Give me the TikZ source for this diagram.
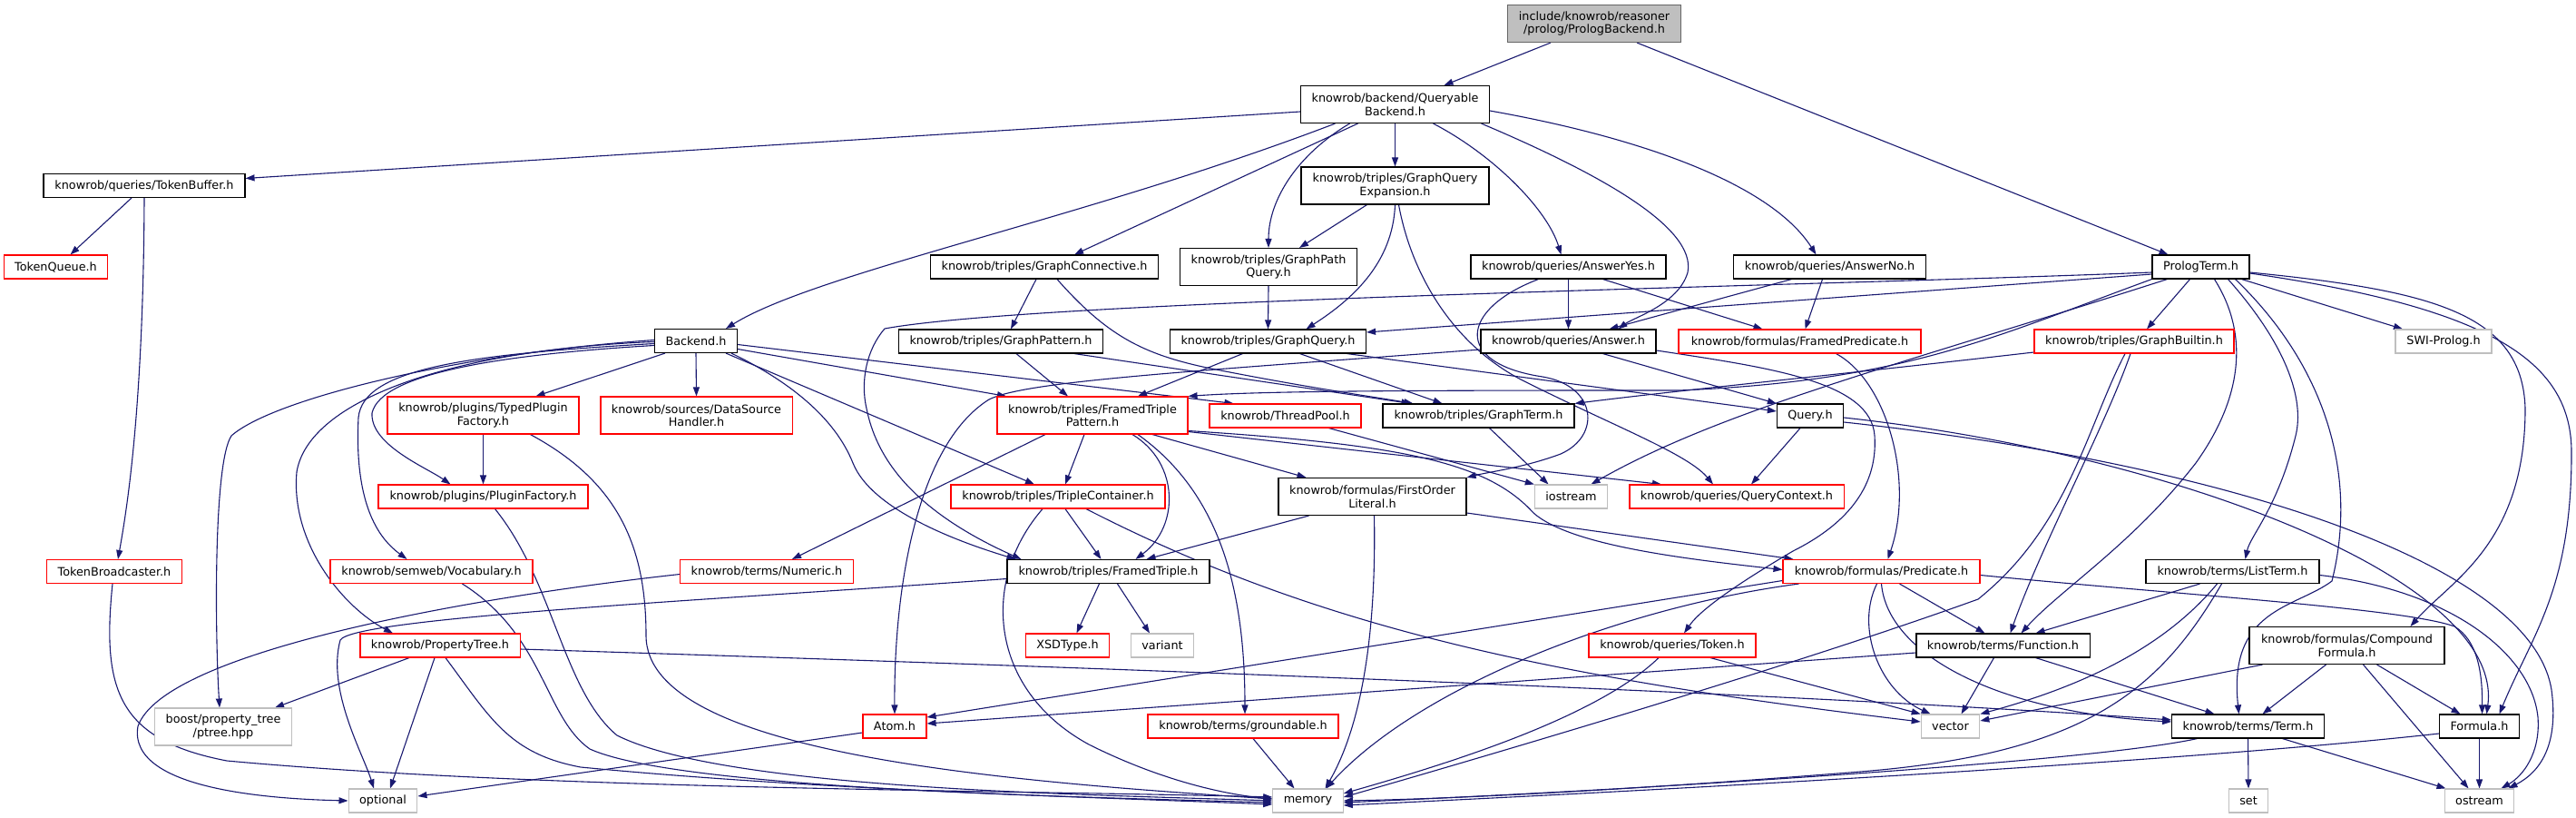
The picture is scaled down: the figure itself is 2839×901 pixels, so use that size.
\documentclass[tikz,border=0pt]{standalone}
\usepackage{fontspec}
\setmainfont{DejaVu Sans}
\usetikzlibrary{arrows.meta}
\definecolor{edgec}{HTML}{191970}
\definecolor{grayA}{HTML}{BFBFBF}
\definecolor{grayB}{HTML}{666666}
\newcommand\dxfont{\fontsize{12.8}{14.5}\selectfont}
\pgfdeclarelayer{edgelayer}
\pgfsetlayers{edgelayer,main}
\tikzset{
  nbase/.style={draw, fill=white, line width=1.1pt, inner xsep=12pt, inner ysep=0pt, align=center, font=\dxfont, minimum height=26},
  blk/.style={nbase, draw=black},
  rd/.style={nbase, draw=red},
  gr/.style={nbase, draw=grayA},
  rt/.style={nbase, fill=grayA, draw=grayB},
  two/.style={minimum height=41},
  edg/.style={draw=edgec, line width=1.1pt, -{Triangle[length=10pt,width=7pt]}},
}
\begin{document}
\begin{tikzpicture}[x=1pt,y=-1pt]
\useasboundingbox (0,0) rectangle (2839,901);
% nodes
\node[rt,two,minimum width=190] (root) at (1757,26) {include/knowrob/reasoner\\/prolog/PrologBackend.h};
\node[blk,two,minimum width=207] (qb) at (1537.5,115) {knowrob/backend/Queryable\\Backend.h};
\node[blk,minimum width=222] (tb) at (159,204.5) {knowrob/queries/TokenBuffer.h};
\node[rd,minimum width=113] (tq) at (61.5,294) {TokenQueue.h};
\node[blk,minimum width=90] (be) at (767,375.5) {Backend.h};
\node[blk,two,minimum width=207] (gqe) at (1537.5,204.5) {knowrob/triples/GraphQuery\\Expansion.h};
\node[blk,minimum width=250] (gc) at (1151,294) {knowrob/triples/GraphConnective.h};
\node[blk,two,minimum width=194] (gpq) at (1398,294) {knowrob/triples/GraphPath\\Query.h};
\node[blk,minimum width=215] (ay) at (1728.5,294) {knowrob/queries/AnswerYes.h};
\node[blk,minimum width=211] (ano) at (2016.5,294) {knowrob/queries/AnswerNo.h};
\node[blk,minimum width=107] (pt) at (2425.5,294) {PrologTerm.h};
\node[blk,minimum width=224] (gp) at (1103,376) {knowrob/triples/GraphPattern.h};
\node[blk,minimum width=215] (gq) at (1397.5,376) {knowrob/triples/GraphQuery.h};
\node[blk,minimum width=193] (an) at (1728.5,376) {knowrob/queries/Answer.h};
\node[rd,minimum width=267] (fp) at (1983.5,376) {knowrob/formulas/FramedPredicate.h};
\node[rd,minimum width=220] (gb) at (2352,376) {knowrob/triples/GraphBuiltin.h};
\node[gr,minimum width=106] (swi) at (2693,376) {SWI-Prolog.h};
\node[rd,two,minimum width=211] (tp) at (532.5,457.5) {knowrob/plugins/TypedPlugin\\Factory.h};
\node[rd,two,minimum width=211] (ds) at (767.5,457.5) {knowrob/sources/DataSource\\Handler.h};
\node[rd,two,minimum width=210] (ftp) at (1204,457.5) {knowrob/triples/FramedTriple\\Pattern.h};
\node[rd,minimum width=167] (thp) at (1416.5,458) {knowrob/ThreadPool.h};
\node[blk,minimum width=211] (gt) at (1629.5,458) {knowrob/triples/GraphTerm.h};
\node[blk,minimum width=70] (q) at (1995,458) {Query.h};
\node[rd,minimum width=231] (pf) at (532.5,547) {knowrob/plugins/PluginFactory.h};
\node[rd,minimum width=236] (tc) at (1166,547) {knowrob/triples/TripleContainer.h};
\node[blk,two,minimum width=207] (fol) at (1512.5,547) {knowrob/formulas/FirstOrder\\Literal.h};
\node[gr,minimum width=79] (ios) at (1731.5,547) {iostream};
\node[rd,minimum width=236] (qc) at (1914,547) {knowrob/queries/QueryContext.h};
\node[rd,minimum width=148] (tbc) at (126,629.5) {TokenBroadcaster.h};
\node[rd,minimum width=223] (voc) at (475.5,629.5) {knowrob/semweb/Vocabulary.h};
\node[rd,minimum width=190] (num) at (845,629.5) {knowrob/terms/Numeric.h};
\node[blk,minimum width=223] (ft) at (1221.5,629.5) {knowrob/triples/FramedTriple.h};
\node[rd,minimum width=217] (pred) at (2073.5,629.5) {knowrob/formulas/Predicate.h};
\node[blk,minimum width=191] (lt) at (2460.5,629.5) {knowrob/terms/ListTerm.h};
\node[rd,minimum width=176] (ptr) at (485,711) {knowrob/PropertyTree.h};
\node[rd,minimum width=89] (xsd) at (1176.5,711) {XSDType.h};
\node[gr,minimum width=68] (var) at (1281,711) {variant};
\node[rd,minimum width=184] (tok) at (1843,711) {knowrob/queries/Token.h};
\node[blk,minimum width=191] (fn) at (2207.5,711) {knowrob/terms/Function.h};
\node[blk,two,minimum width=215] (cf) at (2586.5,711) {knowrob/formulas/Compound\\Formula.h};
\node[gr,two,minimum width=150] (ptree) at (246,800.5) {boost/property\_tree\\/ptree.hpp};
\node[rd,minimum width=70] (atom) at (986,800) {Atom.h};
\node[rd,minimum width=210] (grd) at (1370,800) {knowrob/terms/groundable.h};
\node[gr,minimum width=61] (vec) at (2149.5,800) {vector};
\node[blk,minimum width=167] (term) at (2477.5,800) {knowrob/terms/Term.h};
\node[blk,minimum width=87] (fml) at (2732.5,800) {Formula.h};
\node[gr,minimum width=74] (opt) at (422,882) {optional};
\node[gr,minimum width=77] (mem) at (1441.5,882) {memory};
\node[gr,minimum width=42] (setn) at (2478,882) {set};
\node[gr,minimum width=75] (ost) at (2732.5,882) {ostream};
\begin{pgfonlayer}{edgelayer}
\fill[white] (0,0) rectangle (2839,901);
% root
\draw[edg] ([xshift=-48]root.south) -- ([xshift=54]qb.north);
\draw[edg] ([xshift=47]root.south) -- ([xshift=-36]pt.north);
% queryable backend
\draw[edg] ([yshift=-8]qb.west) -- ([yshift=8]tb.east);
\draw[edg] ([xshift=-66]qb.south) .. controls (1200,240) and (900,300) .. ([xshift=33]be.north);
\draw[edg] ([xshift=-41]qb.south) -- ([xshift=33]gc.north);
\draw[edg] ([xshift=-50]qb.south) .. controls (1430,170) and (1398,220) .. (gpq.north);
\draw[edg] (qb.south) -- (gqe.north);
\draw[edg] ([xshift=42]qb.south) .. controls (1645,170) and (1705,230) .. ([xshift=-8]ay.north);
\draw[edg] ([xshift=95]qb.south) .. controls (1760,190) and (1870,250) .. (1860,300) .. controls (1850,335) and (1800,350) .. ([xshift=55]an.north);
\draw[edg] ([yshift=-7]qb.east) .. controls (1800,150) and (1950,200) .. ([xshift=-15]ano.north);
% token buffer
\draw[edg] ([xshift=-14]tb.south) -- ([xshift=16]tq.north);
\draw[edg] (tb.south) .. controls (158,450) and (140,560) .. ([xshift=4]tbc.north);
\draw[edg] ([xshift=-2]tbc.south) .. controls (112,760) and (130,815) .. (250,838) .. controls (600,870) and (1100,870) .. ([yshift=4]mem.west);
% backend
\draw[edg] ([xshift=-34]be.south) -- ([xshift=58]tp.north);
\draw[edg] (be.south) -- (ds.north);
\draw[edg] ([yshift=-5]be.west) .. controls (560,390) and (420,410) .. (410,455) .. controls (408,490) and (470,515) .. ([xshift=-36]pf.north);
\draw[edg] ([yshift=-3]be.west) .. controls (520,390) and (400,405) .. (395,460) .. controls (390,560) and (420,595) .. ([xshift=-27]voc.north);
\draw[edg] ([yshift=-1]be.west) .. controls (500,385) and (340,440) .. (327,520) .. controls (320,600) and (380,670) .. ([xshift=-52]ptr.north);
\draw[edg] ([yshift=1]be.west) .. controls (500,390) and (300,440) .. (255,480) .. controls (235,510) and (237,700) .. ([xshift=-4]ptree.north);
\draw[edg] ([yshift=-4]be.east) -- ([xshift=-57]thp.north);
\draw[edg] ([yshift=-9]be.east) -- ([xshift=-95]ftp.north);
\draw[edg] ([xshift=33]be.south) -- ([xshift=-26]tc.north);
\draw[edg] ([xshift=39]be.south) .. controls (870,420) and (920,460) .. (940,510) .. controls (960,560) and (1050,595) .. ([xshift=-102]ft.north);
% plugins etc
\draw[edg] (tp.south) -- (pf.north);
\draw[edg] ([xshift=52]tp.south) .. controls (680,530) and (712,600) .. (712,700) .. controls (712,830) and (1100,860) .. ([yshift=2]mem.west);
\draw[edg] ([xshift=13]pf.south) .. controls (610,640) and (620,760) .. (680,810) .. controls (800,870) and (1200,875) .. (mem.west);
\draw[edg] ([xshift=34]voc.south) .. controls (600,700) and (600,790) .. (650,825) .. controls (750,870) and (1200,878) .. ([yshift=-2]mem.west);
% property tree
\draw[edg] ([xshift=-34]ptr.south) -- ([xshift=57]ptree.north);
\draw[edg] ([xshift=-6]ptr.south) -- ([xshift=8]opt.north);
\draw[edg] ([xshift=6]ptr.south) .. controls (540,790) and (560,830) .. (640,845) .. controls (900,870) and (1200,878) .. ([yshift=-4]mem.west);
\draw[edg] ([yshift=-4]ptr.east) .. controls (1300,738) and (2000,765) .. ([yshift=7]term.west);
% framed triple, numeric, atom
\draw[edg] ([yshift=-8]ft.west) .. controls (800,660) and (390,680) .. (375,705) .. controls (360,760) and (400,830) .. ([xshift=-10]opt.north);
\draw[edg] ([yshift=-3]num.west) .. controls (500,660) and (180,720) .. (152,800) .. controls (140,870) and (300,880) .. (opt.west);
\draw[edg] ([yshift=-7]atom.west) -- ([yshift=5]opt.east);
\draw[edg] ([xshift=-10]ft.south) -- ([xshift=10]xsd.north);
\draw[edg] ([xshift=10]ft.south) -- ([xshift=-14]var.north);
% framed triple pattern
\draw[edg] ([xshift=-52]ftp.south) -- ([xshift=28]num.north);
\draw[edg] ([xshift=-9]ftp.south) -- ([xshift=8]tc.north);
\draw[edg] ([xshift=44]ftp.south) .. controls (1300,510) and (1300,580) .. ([xshift=30]ft.north);
\draw[edg] ([xshift=50]ftp.south) .. controls (1340,540) and (1372,640) .. ([xshift=2]grd.north);
\draw[edg] ([xshift=66]ftp.south) -- ([xshift=-73]fol.north);
\draw[edg] ([yshift=-18]ftp.east) -- ([xshift=-83]qc.north);
\draw[edg] ([yshift=-17]ftp.east) .. controls (1550,490) and (1640,510) .. (1690,565) .. controls (1730,600) and (1850,615) .. ([yshift=2]pred.west);
% first order literal
\draw[edg] ([yshift=-18]fol.east) -- ([xshift=-97]pred.north);
\draw[edg] ([xshift=-70]fol.south) -- ([xshift=42]ft.north);
\draw[edg] ([xshift=2]fol.south) .. controls (1517,700) and (1500,800) .. ([xshift=19]mem.north);
% triple container
\draw[edg] ([xshift=-17]tc.south) .. controls (1080,640) and (1090,760) .. (1200,820) .. controls (1280,860) and (1350,875) .. ([yshift=2]mem.west);
\draw[edg] ([xshift=8]tc.south) -- ([xshift=-8]ft.north);
\draw[edg] ([xshift=31]tc.south) .. controls (1450,690) and (1700,745) .. ([yshift=5]vec.west);
\draw[edg] ([xshift=11]grd.south) -- ([xshift=-15]mem.north);
% predicate
\draw[edg] ([yshift=-10]pred.west) -- ([yshift=10]atom.east);
\draw[edg] ([xshift=-91]pred.south) .. controls (1780,670) and (1560,760) .. ([xshift=20]mem.north);
\draw[edg] ([xshift=-5]pred.south) .. controls (2045,690) and (2070,760) .. ([xshift=-22]vec.north);
\draw[edg] (pred.south) .. controls (2080,720) and (2200,785) .. ([yshift=5]term.west);
\draw[edg] ([xshift=20]pred.south) -- ([xshift=-20]fn.north);
\draw[edg] ([yshift=-4]pred.east) .. controls (2400,655) and (2650,670) .. (2705,690) .. controls (2730,705) and (2736,740) .. ([xshift=3]fml.north);
\draw[edg] ([xshift=40]fp.south) .. controls (2080,420) and (2110,530) .. ([xshift=7]pred.north);
% answer
\draw[edg] ([yshift=-10]an.east) .. controls (1950,405) and (2062,420) .. (2066,480) .. controls (2070,540) and (2030,580) .. (1976,607) .. controls (1920,640) and (1875,670) .. ([xshift=13]tok.north);
\draw[edg] ([xshift=38]an.south) -- (q.north west);
\draw[edg] ([yshift=-9]an.west) .. controls (1300,410) and (1130,420) .. (1090,440) .. controls (1010,490) and (985,650) .. (atom.north);
\draw[edg] ([xshift=87]gq.south) -- ([yshift=5]q.west);
% query
\draw[edg] ([xshift=-11]q.south) -- ([xshift=16]qc.north);
\draw[edg] ([yshift=-2]q.east) .. controls (2400,500) and (2760,640) .. ([xshift=8]fml.north);
\draw[edg] ([yshift=-7]q.east) .. controls (2450,510) and (2790,620) .. (2812,760) .. controls (2820,820) and (2800,850) .. ([xshift=32]ost.north);
% graph term, thread pool, builtin
\draw[edg] ([xshift=12]gt.south) -- ([xshift=-25]ios.north);
\draw[edg] ([xshift=48]thp.south) -- (ios.north west);
\draw[edg] ([yshift=-12]gb.west) .. controls (2050,410) and (1850,430) .. (gt.north east);
% prolog term
\draw[edg] ([xshift=-37]pt.south) .. controls (2100,400) and (1900,450) .. ([xshift=22]ios.north);
\draw[edg] (pt.south west) .. controls (2200,370) and (2100,420) .. (1850,430) .. controls (1600,430) and (1400,430) .. (ftp.north east);
\draw[edg] ([yshift=-6]pt.west) .. controls (2000,315) and (1150,330) .. (975,362) .. controls (955,385) and (948,420) .. (955,450) .. controls (965,500) and (1000,560) .. ([xshift=-96]ft.north);
\draw[edg] ([yshift=-8]pt.west) -- ([yshift=10]gq.east);
\draw[edg] ([xshift=-12]pt.south) -- ([xshift=14]gb.north);
\draw[edg] ([xshift=45]pt.south) -- ([xshift=-45]swi.north);
\draw[edg] ([xshift=15]pt.south) .. controls (2480,370) and (2470,440) .. (2420,510) .. controls (2350,600) and (2270,650) .. ([xshift=20]fn.north);
\draw[edg] ([xshift=30]pt.south) .. controls (2520,380) and (2540,440) .. (2530,480) .. controls (2510,560) and (2480,590) .. ([xshift=14]lt.north);
\draw[edg] ([xshift=38]pt.south) .. controls (2560,400) and (2600,520) .. (2570,640) .. controls (2530,670) and (2455,670) .. ([xshift=-10]term.north);
\draw[edg] ([yshift=-6]pt.east) .. controls (2680,320) and (2780,345) .. (2783,450) .. controls (2783,600) and (2700,640) .. ([xshift=70]cf.north);
\draw[edg] ([yshift=-7]pt.east) .. controls (2750,340) and (2835,400) .. (2834,500) .. controls (2834,650) and (2790,700) .. ([xshift=22]fml.north);
% list term
\draw[edg] ([xshift=-36]lt.south) -- ([xshift=36]fn.north);
\draw[edg] ([xshift=-17]lt.south) .. controls (2380,720) and (2280,760) .. (vec.north east);
\draw[edg] ([xshift=-12]lt.south) .. controls (2380,760) and (2300,830) .. (2050,850) .. controls (1800,870) and (1600,880) .. (mem.east);
\draw[edg] ([yshift=-4]lt.east) .. controls (2700,650) and (2790,720) .. (2797,790) .. controls (2800,830) and (2780,855) .. ([xshift=24]ost.north);
% function, token
\draw[edg] ([xshift=-10]fn.south) -- ([xshift=12]vec.north);
\draw[edg] ([xshift=36]fn.south) -- ([xshift=-37]term.north);
\draw[edg] ([yshift=-8]fn.west) -- ([yshift=3]atom.east);
\draw[edg] ([xshift=42]tok.south) -- (vec.north west);
\draw[edg] ([xshift=-15]tok.south) .. controls (1760,790) and (1600,840) .. ([yshift=8]mem.east);
\draw[edg] ([xshift=-10]gb.south) .. controls (2300,470) and (2280,580) .. (2180,660) .. controls (2000,725) and (1700,815) .. ([yshift=4]mem.east);
\draw[edg] ([xshift=-4]gb.south) .. controls (2320,470) and (2250,600) .. ([xshift=8]fn.north);
% compound formula
\draw[edg] ([xshift=-93]cf.south) -- ([yshift=6]vec.east);
\draw[edg] ([xshift=-23]cf.south) -- ([xshift=16]term.north);
\draw[edg] ([xshift=18]cf.south) -- ([xshift=-12]ost.north);
\draw[edg] ([xshift=33]cf.south) -- ([xshift=-21]fml.north);
% term, formula
\draw[edg] (term.south) -- (setn.north);
\draw[edg] ([xshift=38]term.south) -- ([xshift=-37]ost.north);
\draw[edg] ([xshift=-56]term.south) .. controls (2300,840) and (1800,870) .. ([yshift=-2]mem.east);
\draw[edg] (fml.south) -- (ost.north);
\draw[edg] ([yshift=-8]fml.west) .. controls (2400,840) and (1800,872) .. ([yshift=-5]mem.east);
% graph connective, pattern, query
\draw[edg] ([xshift=-9]gc.south) -- ([xshift=11]gp.north);
\draw[edg] ([xshift=14]gc.south) .. controls (1220,370) and (1260,390) .. (1330,405) .. controls (1430,425) and (1500,435) .. ([xshift=-72]gt.north);
\draw[edg] ([xshift=17]gp.south) -- ([xshift=-27]ftp.north);
\draw[edg] ([xshift=81]gp.south) -- ([xshift=-75]gt.north);
\draw[edg] ([xshift=-28]gq.south) -- ([xshift=50]ftp.north);
\draw[edg] ([xshift=35]gq.south) -- ([xshift=-40]gt.north);
% graph query expansion
\draw[edg] ([xshift=-31]gqe.south) -- ([xshift=34]gpq.north);
\draw[edg] (gqe.south) .. controls (1535,290) and (1490,330) .. ([xshift=42]gq.north);
\draw[edg] ([xshift=4]gqe.south) .. controls (1555,300) and (1600,380) .. (1680,420) .. controls (1780,470) and (1860,500) .. ([xshift=-26]qc.north);
\draw[edg] (gpq.south) -- (gq.north);
% answers
\draw[edg] (ay.south) -- (an.north);
\draw[edg] ([xshift=38]ay.south) -- ([xshift=-41]fp.north);
\draw[edg] ([xshift=-33]ay.south) .. controls (1610,340) and (1600,400) .. (1700,415) .. controls (1760,425) and (1765,480) .. (1720,500) .. controls (1680,515) and (1640,520) .. (fol.north east);
\draw[edg] ([xshift=-42]ano.south) -- ([xshift=45]an.north);
\draw[edg] ([xshift=-8]ano.south) -- ([xshift=6]fp.north);
\end{pgfonlayer}
\end{tikzpicture}
\end{document}
